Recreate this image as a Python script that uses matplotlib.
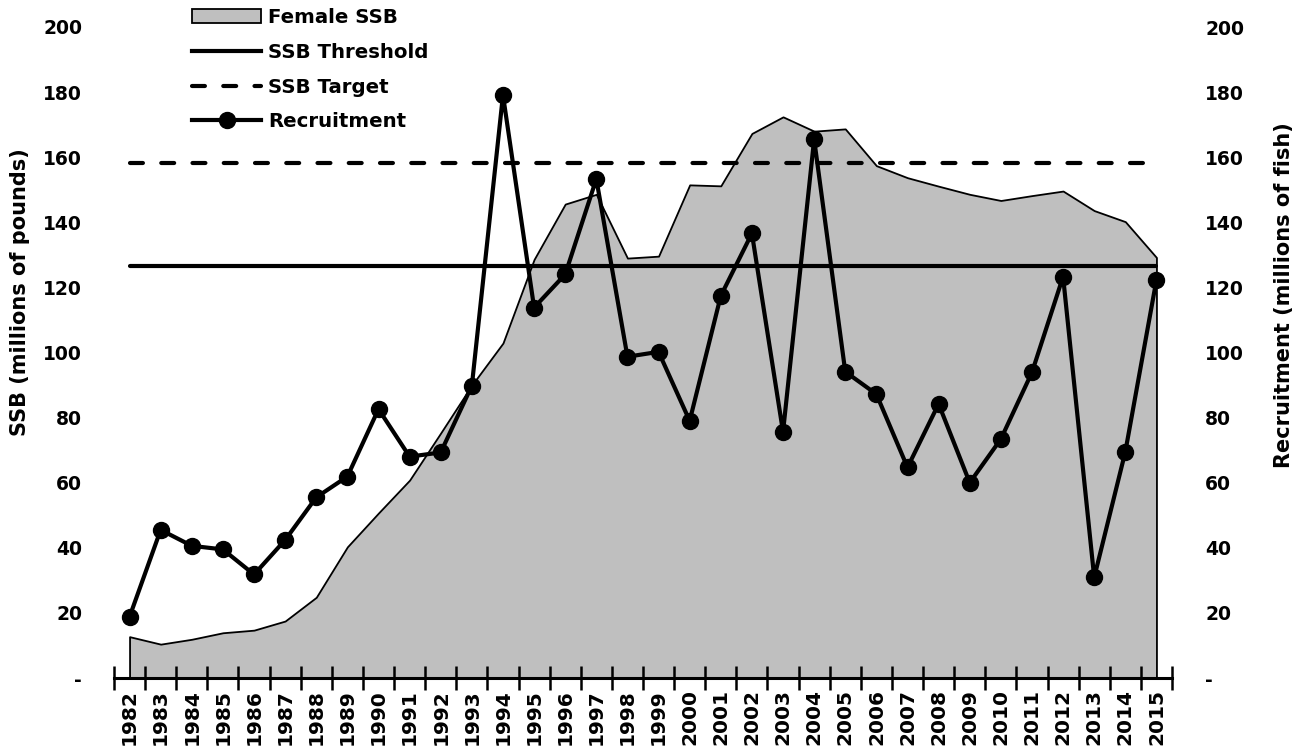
import matplotlib
matplotlib.use("Agg")
import matplotlib.pyplot as plt
from matplotlib.lines import Line2D
from matplotlib.patches import Patch
import numpy as np

years = list(range(1982, 2016))
female_ssb = [12.7, 10.4, 11.9, 13.9, 14.7, 17.5, 24.8, 40.3, 50.7, 60.8,
              75.3, 90.0, 102.9, 128.6, 145.6, 148.6, 129.0, 129.6, 151.5, 151.2,
              167.3, 172.4, 168.0, 168.7, 157.4, 153.7, 151.1, 148.6, 146.7, 148.2,
              149.6, 143.6, 140.2, 129.2]
recruitment = [18.8, 45.5, 40.6, 39.5, 31.8, 42.4, 55.5, 61.9, 82.6, 68.0,
               69.3, 89.8, 179.1, 113.8, 124.0, 153.3, 98.7, 100.2, 79.0, 117.4,
               136.6, 75.6, 165.5, 94.1, 87.2, 64.7, 84.2, 60.0, 73.4, 93.9,
               123.3, 30.9, 69.5, 122.3]
ssb_threshold = 126.6
ssb_target = 158.1
y_ticks = [0, 20, 40, 60, 80, 100, 120, 140, 160, 180, 200]
y_ticklabels = ["-"] + [str(v) for v in y_ticks[1:]]

FONT = ['DejaVu Sans']
plt.rcParams['font.family'] = FONT
plt.rcParams['font.weight'] = 'bold'

LW = 3.0
DASH = (3.1, 4.4)

fig = plt.figure(figsize=(12.96, 7.56), dpi=100)
ax = fig.add_axes([114/1296, 1 - 678/756, (1172 - 114)/1296, (678 - 27)/756])
x = np.arange(len(years))

ax.fill_between(x, female_ssb, 0, facecolor='#BFBFBF', edgecolor='black',
                linewidth=1.3, zorder=1)
ax.plot([x[0], x[-1]], [ssb_threshold, ssb_threshold], color='black', lw=LW,
        solid_capstyle='round', zorder=2)
ax.plot([x[0], x[-1]], [ssb_target, ssb_target], color='black', lw=LW,
        dashes=DASH, dash_capstyle='round', zorder=2)

ax.set_xlim(-0.5, len(years) - 0.5)
ax.set_ylim(0, 200)
ax.set_yticks(y_ticks)
ax.set_yticklabels(y_ticklabels, fontsize=13.5, fontweight='bold')
ax.tick_params(axis='y', length=0, pad=23)
for s in ['top', 'left', 'right']:
    ax.spines[s].set_visible(False)
ax.spines['bottom'].set_linewidth(2.2)
ax.set_xticks(x)
ax.set_xticklabels([str(y) for y in years], rotation=90, fontsize=14.5,
                   fontweight='bold')
ax.tick_params(axis='x', which='major', length=0, pad=8)
ax.set_xticks(np.arange(-0.5, len(years) + 0.5, 1), minor=True)
ax.tick_params(axis='x', which='minor', direction='inout', length=17, width=1.8)

ax2 = ax.twinx()
ax2.plot(x, recruitment, color='black', lw=LW, marker='o', markersize=11.5,
         zorder=3)
ax2.set_ylim(0, 200)
ax2.set_yticks(y_ticks)
ax2.set_yticklabels(y_ticklabels, fontsize=13.5, fontweight='bold')
ax2.tick_params(axis='y', length=0, pad=24)
for s in ['top', 'left', 'right', 'bottom']:
    ax2.spines[s].set_visible(False)

fig.text(20/1296, 1 - 292/756, "SSB (millions of pounds)", rotation=90,
         ha='center', va='center', fontsize=15, fontweight='bold')
fig.text(1284/1296, 1 - 295/756, "Recruitment (millions of fish)", rotation=90,
         ha='center', va='center', fontsize=15, fontweight='bold')

handles = [
    Patch(facecolor='#BFBFBF', edgecolor='black', linewidth=1.3),
    Line2D([], [], color='black', lw=LW),
    Line2D([], [], color='black', lw=LW, dashes=DASH, dash_capstyle='round'),
    Line2D([], [], color='black', lw=LW, marker='o', markersize=11.5),
]
labels = ["Female SSB", "SSB Threshold", "SSB Target", "Recruitment"]
fig.legend(handles, labels, loc='upper left',
           bbox_to_anchor=(192/1296, 1 - 8/756), frameon=False,
           prop={'family': FONT, 'weight': 'bold', 'size': 14.2},
           handlelength=3.5, handletextpad=0.35, labelspacing=0.8,
           borderpad=0, borderaxespad=0)

fig.savefig("out.png", dpi=100)
